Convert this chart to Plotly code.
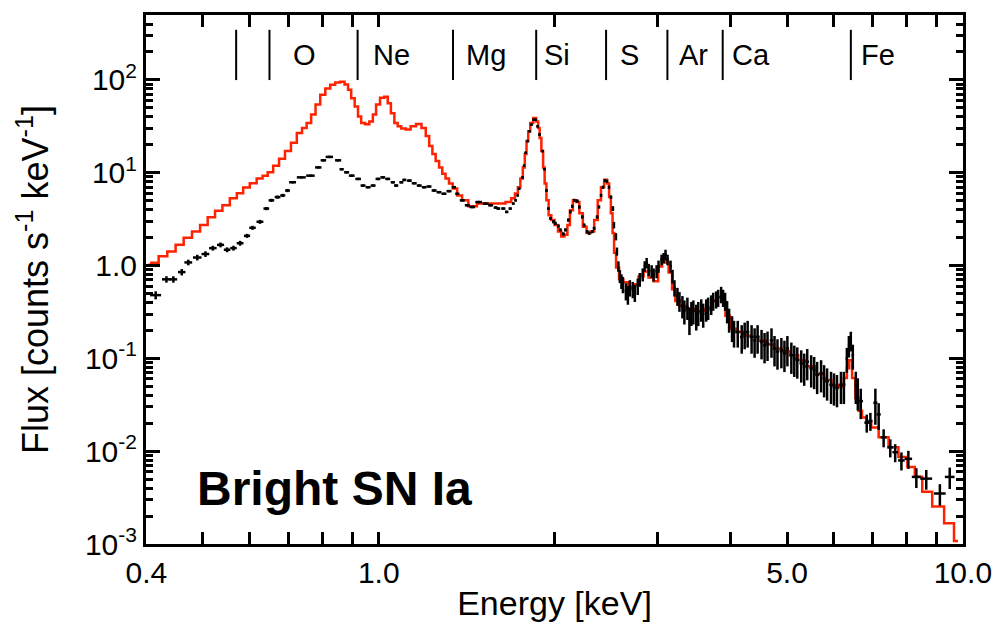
import numpy as np
import plotly.graph_objects as go

# ---------------- model (red histogram) ----------------
model_energy = [
    0.403, 0.413, 0.427, 0.442, 0.456, 0.471, 0.487, 0.502, 0.517, 0.532,
    0.548, 0.564, 0.579, 0.593, 0.610, 0.626, 0.639, 0.652, 0.667, 0.683,
    0.699, 0.716, 0.732, 0.746, 0.759, 0.773, 0.786, 0.802, 0.818, 0.834,
    0.850, 0.867, 0.881, 0.891, 0.903, 0.916, 0.927, 0.939, 0.956, 0.971,
    0.983, 0.996, 1.014, 1.030, 1.042, 1.056, 1.071, 1.084, 1.101, 1.123,
    1.145, 1.172, 1.195, 1.212, 1.228, 1.243, 1.260, 1.277, 1.292, 1.310,
    1.328, 1.349, 1.375, 1.403, 1.444, 1.502, 1.562, 1.624, 1.672, 1.699,
    1.722, 1.739, 1.756, 1.773, 1.784, 1.797, 1.808, 1.826, 1.851, 1.869,
    1.880, 1.891, 1.906, 1.917, 1.929, 1.944, 1.963, 1.986, 2.013, 2.041,
    2.065, 2.093, 2.114, 2.135, 2.164, 2.190, 2.220, 2.251, 2.286, 2.322,
    2.354, 2.387, 2.415, 2.448, 2.472, 2.487, 2.506, 2.521, 2.536, 2.561,
    2.596, 2.647, 2.704, 2.758, 2.812, 2.868, 2.925, 2.982, 3.035, 3.077,
    3.114, 3.156, 3.200, 3.238, 3.301, 3.413, 3.549, 3.669, 3.763, 3.838,
    3.891, 3.952, 4.030, 4.150, 4.264, 4.400, 4.540, 4.686, 4.816, 4.968,
    5.145, 5.308, 5.500, 5.696, 5.876, 6.040, 6.207, 6.305, 6.355, 6.418,
    6.506, 6.583, 6.674, 6.766, 6.900, 7.036, 7.317, 7.608, 7.910, 8.162,
    8.388, 8.655, 9.072, 9.507, 9.808,
]
model_flux = [
    1.02, 1.07, 1.26, 1.42, 1.67, 1.99, 2.32, 2.73, 3.32, 3.88,
    4.46, 5.29, 6.02, 6.92, 7.70, 8.64, 9.29, 10.1, 11.9, 14.1,
    17.1, 21.0, 26.7, 30.3, 34.3, 42.4, 54.2, 69.2, 80.8, 88.5,
    93.6, 95.2, 89.1, 78.3, 63.3, 51.6, 40.4, 34.3, 33.2, 35.7,
    42.4, 54.2, 64.3, 65.9, 56.0, 43.8, 34.3, 31.6, 29.9, 29.2,
    31.6, 33.5, 30.3, 24.8, 19.4, 15.9, 13.4, 11.4, 9.76, 8.64,
    7.64, 6.76, 5.69, 5.04, 4.35, 4.65, 4.65, 4.65, 4.83, 5.29,
    5.98, 6.98, 8.64, 11.4, 15.9, 21.9, 28.0, 34.3, 38.8, 35.7,
    30.3, 23.7, 17.1, 11.4, 7.64, 5.04, 3.49, 3.09, 2.73, 2.32,
    2.05, 2.14, 2.73, 3.94, 5.04, 4.83, 3.66, 2.62, 2.24, 2.32,
    3.09, 5.04, 6.98, 8.42, 7.64, 5.46, 3.66, 2.24, 1.375, 0.952,
    0.710, 0.659, 0.583, 0.628, 0.764, 0.863, 0.745, 0.676, 0.976, 1.158,
    1.076, 0.842, 0.556, 0.414, 0.366, 0.340, 0.324, 0.340, 0.414, 0.457,
    0.404, 0.287, 0.209, 0.194, 0.176, 0.171, 0.155, 0.141, 0.128, 0.119,
    0.108, 0.0952, 0.0822, 0.0676, 0.0583, 0.0516, 0.049, 0.0613, 0.0783, 0.0952,
    0.0613, 0.0375, 0.0273, 0.0230, 0.0203, 0.0180, 0.0141, 0.0110, 0.00863, 0.00676,
    0.00529, 0.00366, 0.00254, 0.00167, 0.00108,
]

# ---------------- observed spectrum (black crosses) ----------------
data_energy = [
    0.415, 0.433, 0.445, 0.460, 0.472, 0.489, 0.505, 0.520, 0.536, 0.550,
    0.564, 0.579, 0.595, 0.608, 0.626, 0.642, 0.655, 0.671, 0.685, 0.698,
    0.712, 0.737, 0.764, 0.788, 0.804, 0.823, 0.852, 0.864, 0.881, 0.899,
    0.922, 0.940, 0.959, 0.978, 0.997, 1.016, 1.036, 1.057, 1.071, 1.093,
    1.106, 1.128, 1.150, 1.173, 1.196, 1.219, 1.244, 1.268, 1.293, 1.319,
    1.345, 1.363, 1.390, 1.418, 1.446, 1.483, 1.524, 1.554, 1.585, 1.602,
    1.634, 1.656, 1.679, 1.699, 1.715, 1.729, 1.739, 1.763, 1.773, 1.784,
    1.798, 1.812, 1.826, 1.841, 1.855, 1.870, 1.885, 1.907, 1.922, 1.937,
    1.952, 1.968, 1.991, 2.006, 2.030, 2.046, 2.070, 2.087, 2.111, 2.128,
    2.144, 2.161, 2.187, 2.204, 2.230, 2.247, 2.274, 2.292, 2.319, 2.337,
    2.365, 2.383, 2.402, 2.421, 2.440, 2.459, 2.478, 2.498, 2.517, 2.527,
    2.547, 2.557, 2.572, 2.587, 2.603, 2.618, 2.649, 2.670, 2.691, 2.722,
    2.744, 2.776, 2.798, 2.831, 2.853, 2.875, 2.898, 2.932, 2.955, 2.990,
    3.013, 3.049, 3.073, 3.097, 3.122, 3.159, 3.183, 3.208, 3.246, 3.272,
    3.310, 3.336, 3.376, 3.403, 3.429, 3.456, 3.496, 3.524, 3.565, 3.593,
    3.636, 3.664, 3.708, 3.737, 3.781, 3.811, 3.856, 3.886, 3.917, 3.948,
    3.979, 4.026, 4.057, 4.117, 4.182, 4.231, 4.281, 4.348, 4.400, 4.452,
    4.522, 4.576, 4.630, 4.703, 4.759, 4.815, 4.890, 4.949, 5.007, 5.086,
    5.145, 5.206, 5.288, 5.350, 5.414, 5.499, 5.564, 5.630, 5.718, 5.786,
    5.855, 5.947, 6.017, 6.088, 6.184, 6.256, 6.330, 6.380, 6.429, 6.480,
    6.557, 6.609, 6.686, 6.846, 6.945, 7.083, 7.175, 7.317, 7.511, 7.658,
    7.849, 8.067, 8.324, 8.656, 9.133, 9.495,
]
data_flux = [
    0.48, 0.71, 0.71, 0.85, 1.08, 1.22, 1.33, 1.54, 1.67, 1.48,
    1.54, 1.74, 2.09, 2.55, 2.96, 4.11, 5.04, 5.46, 5.69, 6.43,
    7.89, 8.91, 9.29, 11.4, 13.6, 14.8, 13.6, 10.9, 10.1, 9.29,
    8.57, 7.27, 6.98, 7.27, 8.57, 8.91, 8.57, 7.89, 7.27, 7.89,
    8.36, 8.22, 7.70, 7.27, 6.98, 7.10, 6.43, 6.17, 5.93, 6.33,
    6.98, 5.93, 5.04, 4.46, 4.27, 4.83, 4.65, 4.46, 4.21, 4.11,
    4.11, 3.78, 4.11, 4.65, 5.04, 5.69, 6.71, 8.91, 11.9, 16.4,
    21.9, 28.0, 32.9, 37.2, 37.2, 31.6, 25.8, 17.1, 10.9, 6.43,
    4.11, 3.22, 2.96, 2.85, 2.66, 2.42, 2.19, 2.42, 3.09, 3.78,
    4.35, 5.04, 4.95, 4.27, 3.34, 2.73, 2.32, 2.23, 2.32, 2.52,
    3.34, 4.27, 5.69, 6.98, 8.22, 8.08, 6.98, 5.46, 4.11, 2.73,
    2.05, 1.42, 0.983, 0.769, 0.681, 0.628, 0.533, 0.491, 0.579, 0.555,
    0.512, 0.602, 0.710, 0.802, 0.983, 1.068, 0.907, 0.869, 0.802, 0.869,
    0.983, 1.158, 1.207, 1.309, 1.158, 0.983, 0.769, 0.579, 0.471, 0.417,
    0.369, 0.326, 0.355, 0.266, 0.314, 0.326, 0.289, 0.314, 0.340, 0.301,
    0.340, 0.355, 0.385, 0.417, 0.435, 0.453, 0.491, 0.453, 0.417, 0.326,
    0.266, 0.217, 0.192, 0.192, 0.170, 0.184, 0.192, 0.170, 0.156, 0.170,
    0.150, 0.138, 0.144, 0.156, 0.128, 0.118, 0.122, 0.113, 0.128, 0.108,
    0.100, 0.0958, 0.0884, 0.0815, 0.0921, 0.0782, 0.0750, 0.0664, 0.0692, 0.0612,
    0.0565, 0.0519, 0.0499, 0.0479, 0.0519, 0.0519, 0.0999, 0.138, 0.156, 0.108,
    0.0519, 0.0442, 0.0346, 0.0203, 0.0212, 0.0332, 0.0249, 0.0141, 0.0110, 0.00974,
    0.00795, 0.00827, 0.00528, 0.00506, 0.00350, 0.00528,
]
# relative 1-sigma uncertainty of each data point
data_err_frac = [
    0.10, 0.08, 0.08, 0.08, 0.07, 0.07, 0.07, 0.06, 0.06, 0.06,
    0.06, 0.06, 0.05, 0.05, 0.05, 0.04, 0.04, 0.04, 0.04, 0.04,
    0.03, 0.03, 0.03, 0.03, 0.03, 0.03, 0.03, 0.03, 0.03, 0.03,
    0.03, 0.03, 0.03, 0.03, 0.03, 0.03, 0.03, 0.03, 0.03, 0.03,
    0.03, 0.03, 0.03, 0.03, 0.03, 0.03, 0.03, 0.03, 0.03, 0.03,
    0.03, 0.03, 0.03, 0.03, 0.03, 0.03, 0.03, 0.03, 0.03, 0.03,
    0.03, 0.03, 0.03, 0.03, 0.03, 0.03, 0.03, 0.03, 0.03, 0.03,
    0.03, 0.03, 0.03, 0.03, 0.03, 0.03, 0.03, 0.03, 0.03, 0.03,
    0.03, 0.04, 0.04, 0.04, 0.04, 0.04, 0.04, 0.04, 0.04, 0.04,
    0.04, 0.04, 0.04, 0.04, 0.04, 0.04, 0.04, 0.04, 0.04, 0.04,
    0.04, 0.04, 0.04, 0.04, 0.04, 0.04, 0.04, 0.04, 0.06, 0.08,
    0.09, 0.10, 0.13, 0.16, 0.18, 0.20, 0.21, 0.23, 0.20, 0.20,
    0.21, 0.20, 0.17, 0.16, 0.13, 0.13, 0.15, 0.16, 0.16, 0.16,
    0.15, 0.13, 0.13, 0.13, 0.13, 0.15, 0.17, 0.20, 0.22, 0.24,
    0.27, 0.29, 0.27, 0.33, 0.29, 0.29, 0.31, 0.29, 0.27, 0.29,
    0.27, 0.27, 0.24, 0.22, 0.21, 0.21, 0.20, 0.21, 0.22, 0.27,
    0.29, 0.31, 0.32, 0.32, 0.34, 0.32, 0.32, 0.34, 0.35, 0.34,
    0.35, 0.36, 0.35, 0.35, 0.36, 0.36, 0.36, 0.37, 0.36, 0.37,
    0.37, 0.37, 0.38, 0.38, 0.37, 0.38, 0.38, 0.38, 0.38, 0.38,
    0.38, 0.38, 0.38, 0.38, 0.38, 0.38, 0.30, 0.26, 0.24, 0.30,
    0.38, 0.38, 0.36, 0.22, 0.22, 0.42, 0.32, 0.22, 0.22, 0.22,
    0.22, 0.22, 0.24, 0.24, 0.26, 0.26,
]

# ---------------- line identifications ----------------
line_energy = [0.57, 0.65, 0.92, 1.34, 1.86, 2.45, 3.12, 3.88, 6.43]
label_text = ["O", "Ne", "Mg", "Si", "S", "Ar", "Ca", "Fe"]
label_energy = [0.707, 0.969, 1.400, 1.906, 2.566, 3.244, 3.99, 6.63]

# axis ticks
x_major = [0.4, 1.0, 5.0, 10.0]
x_major_text = ["0.4", "1.0", "5.0", "10.0"]
x_minor = [0.5, 0.6, 0.7, 0.8, 0.9, 2, 3, 4, 6, 7, 8, 9]
y_major = [1e-3, 1e-2, 1e-1, 1, 10, 100]
y_major_text = ["10<sup>-3</sup>", "10<sup>-2</sup>", "10<sup>-1</sup>", "1.0",
                "10<sup>1</sup>", "10<sup>2</sup>"]
y_minor = [m * d for d in [1e-3, 1e-2, 1e-1, 1, 10, 100] for m in range(2, 10)]

# ---------------- derived error arrays ----------------
e = np.array(data_energy)
f = np.array(data_flux)
yerr = f * np.array(data_err_frac)
xerr = np.empty_like(e)
xerr[1:-1] = (e[2:] - e[:-2]) / 4.0
xerr[0] = (e[1] - e[0]) / 2.0
xerr[-1] = (e[-1] - e[-2]) / 2.0

FONT = "Liberation Sans, Arial, Helvetica, sans-serif"

fig = go.Figure()
fig.add_trace(go.Scatter(
    x=model_energy, y=model_flux, mode="lines",
    line=dict(color="#ff2200", width=2.5, shape="hvh"),
    showlegend=False, hoverinfo="skip"))
fig.add_trace(go.Scatter(
    x=data_energy, y=data_flux, mode="markers",
    marker=dict(size=1, color="black"),
    error_x=dict(type="data", array=xerr, color="black", thickness=2.5, width=0),
    error_y=dict(type="data", array=yerr, color="black", thickness=2.5, width=0),
    showlegend=False))

for le in line_energy:
    fig.add_shape(type="line", xref="x", yref="paper",
                  x0=le, x1=le, y0=0.877, y1=0.972,
                  line=dict(color="black", width=2))

for txt, le in zip(label_text, label_energy):
    fig.add_annotation(x=np.log10(le), y=0.925, xref="x", yref="paper",
                       text=txt, showarrow=False, xanchor="left", yanchor="middle",
                       font=dict(family=FONT, size=29, color="black"))

fig.add_annotation(x=0.060, y=0.105, xref="paper", yref="paper",
                   text="<b>Bright SN Ia</b>", showarrow=False,
                   xanchor="left", yanchor="middle",
                   font=dict(family=FONT, size=48, color="black"))

fig.update_layout(
    width=1004, height=629,
    margin=dict(l=146, r=36, t=12, b=81),
    paper_bgcolor="white", plot_bgcolor="white",
    font=dict(family=FONT, color="black", size=30),
    showlegend=False,
)
fig.update_xaxes(
    type="log", range=[np.log10(0.3995), np.log10(10.005)],
    tickmode="array", tickvals=x_major, ticktext=x_major_text,
    ticks="inside", ticklen=12, tickwidth=2.5, tickcolor="black",
    minor=dict(tickmode="array", tickvals=x_minor, ticks="inside",
               ticklen=12, tickwidth=2.5, tickcolor="black", showgrid=False),
    showline=True, linewidth=3, linecolor="black", mirror="allticks",
    showgrid=False, zeroline=False,
    tickfont=dict(family=FONT, size=30, color="black"),
    title=dict(text="Energy [keV]", font=dict(family=FONT, size=34, color="black"),
               standoff=4),
)
fig.update_yaxes(
    type="log", range=[-3, np.log10(500)],
    tickmode="array", tickvals=y_major, ticktext=y_major_text,
    ticks="inside", ticklen=14, tickwidth=2.5, tickcolor="black",
    minor=dict(tickmode="array", tickvals=y_minor, ticks="inside",
               ticklen=7, tickwidth=2.5, tickcolor="black", showgrid=False),
    showline=True, linewidth=3, linecolor="black", mirror="allticks",
    showgrid=False, zeroline=False,
    tickfont=dict(family=FONT, size=30, color="black"),
    title=dict(text="Flux [counts s<sup>-1</sup> keV<sup>-1</sup>]",
               font=dict(family=FONT, size=36, color="black"), standoff=26),
)

fig.write_html("out.html")
